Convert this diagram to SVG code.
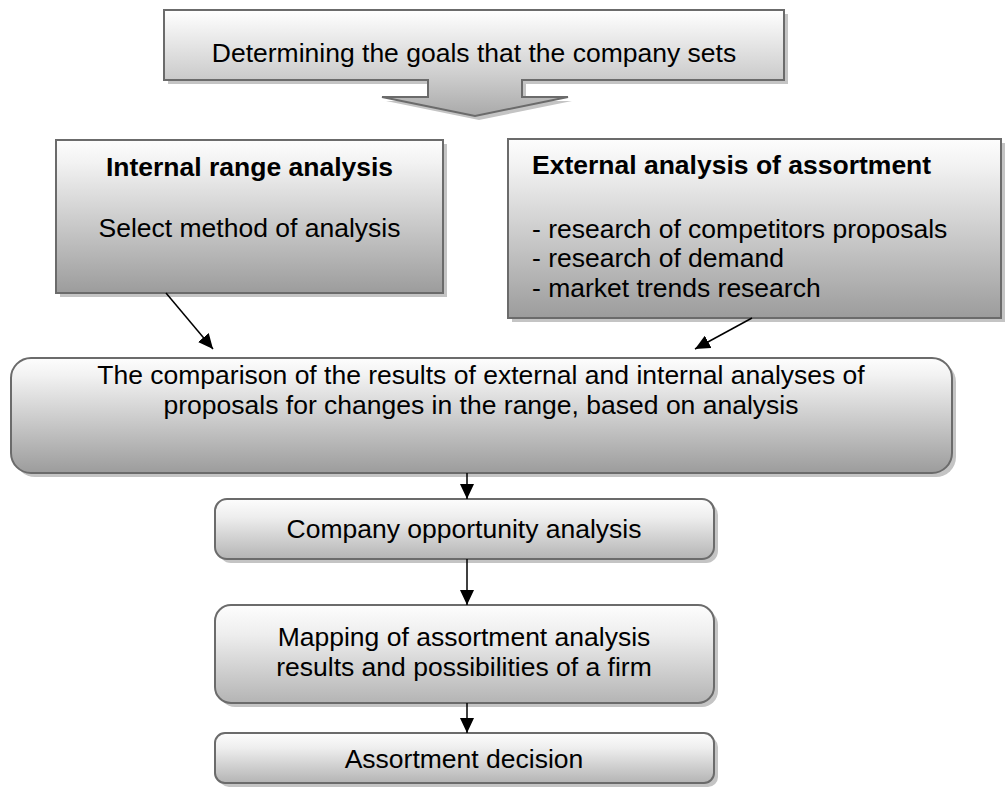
<svg xmlns="http://www.w3.org/2000/svg" width="1005" height="789" viewBox="0 0 1005 789">
<defs>
<linearGradient id="gTop" x1="0" y1="0" x2="0" y2="1">
<stop offset="0" stop-color="#ffffff"/><stop offset="0.6" stop-color="#cfcfcf"/><stop offset="1" stop-color="#a9a9a9"/>
</linearGradient>
<linearGradient id="gBox" x1="0" y1="0" x2="0" y2="1">
<stop offset="0" stop-color="#fdfdfd"/><stop offset="0.15" stop-color="#f2f2f2"/><stop offset="1" stop-color="#9c9c9c"/>
</linearGradient>
<linearGradient id="gSmall" x1="0" y1="0" x2="0" y2="1">
<stop offset="0" stop-color="#fdfdfd"/><stop offset="0.3" stop-color="#eeeeee"/><stop offset="1" stop-color="#b4b4b4"/>
</linearGradient>
<marker id="ah" markerUnits="userSpaceOnUse" markerWidth="16" markerHeight="14" refX="15" refY="7" orient="auto">
<path d="M0,0 L15,7 L0,14 Z" fill="#000"/>
</marker>
<style>
.sh{fill:#c4c4c4;}
.bx{stroke:#6b6b6b;stroke-width:2;}
.t{font-family:"Liberation Sans",Arial,sans-serif;font-size:26.5px;fill:#000;}
.b{font-weight:bold;}
.c{text-anchor:middle;}
.ln{stroke:#000;stroke-width:1.5;fill:none;marker-end:url(#ah);}
</style>
</defs>
<g id="goals">
<path class="sh" d="M168,14 H788 V84 H526 V101 H572 L479,120 L386,101 H432 V84 H168 Z"/>
<path class="bx" fill="url(#gTop)" d="M164,10 H784 V80 H522 V97 H568 L475,116 L382,97 H428 V80 H164 Z"/>
<text class="t c" x="474" y="62">Determining the goals that the company sets</text>
</g>
<g id="internal">
<rect class="sh" x="60" y="144" width="387" height="153"/>
<rect class="bx" fill="url(#gBox)" x="56" y="140" width="387" height="153"/>
<text class="t c b" x="249.5" y="176">Internal range analysis</text>
<text class="t c" x="249.5" y="237">Select method of analysis</text>
</g>
<g id="external">
<rect class="sh" x="512" y="143" width="493" height="179"/>
<rect class="bx" fill="url(#gBox)" x="508" y="139" width="493" height="179"/>
<text class="t b" x="532" y="174">External analysis of assortment</text>
<text class="t" x="532" y="238">- research of competitors proposals</text>
<text class="t" x="532" y="267">- research of demand</text>
<text class="t" x="532" y="297">- market trends research</text>
</g>
<g id="comparison">
<rect class="sh" x="15" y="362" width="941" height="115" rx="20"/>
<rect class="bx" fill="url(#gBox)" x="11" y="358" width="941" height="115" rx="20"/>
<text class="t c" x="481" y="384">The comparison of the results of external and internal analyses of</text>
<text class="t c" x="481" y="414">proposals for changes in the range, based on analysis</text>
</g>
<g id="opportunity">
<rect class="sh" x="219" y="503" width="499" height="60" rx="12"/>
<rect class="bx" fill="url(#gSmall)" x="215" y="499" width="499" height="60" rx="12"/>
<text class="t c" x="464" y="538">Company opportunity analysis</text>
</g>
<g id="mapping">
<rect class="sh" x="219" y="609" width="499" height="98" rx="16"/>
<rect class="bx" fill="url(#gSmall)" x="215" y="605" width="499" height="98" rx="16"/>
<text class="t c" x="464" y="646">Mapping of assortment analysis</text>
<text class="t c" x="464" y="676">results and possibilities of a firm</text>
</g>
<g id="decision">
<rect class="sh" x="219" y="737" width="499" height="50" rx="10"/>
<rect class="bx" fill="url(#gSmall)" x="215" y="733" width="499" height="50" rx="10"/>
<text class="t c" x="464" y="768">Assortment decision</text>
</g>
<g id="connectors">
<line class="ln" x1="166" y1="293" x2="213" y2="349"/>
<line class="ln" x1="752" y1="318" x2="695" y2="349"/>
<line class="ln" x1="467" y1="473" x2="467" y2="499"/>
<line class="ln" x1="467" y1="559" x2="467" y2="605"/>
<line class="ln" x1="467" y1="703" x2="467" y2="733"/>
</g>
</svg>
